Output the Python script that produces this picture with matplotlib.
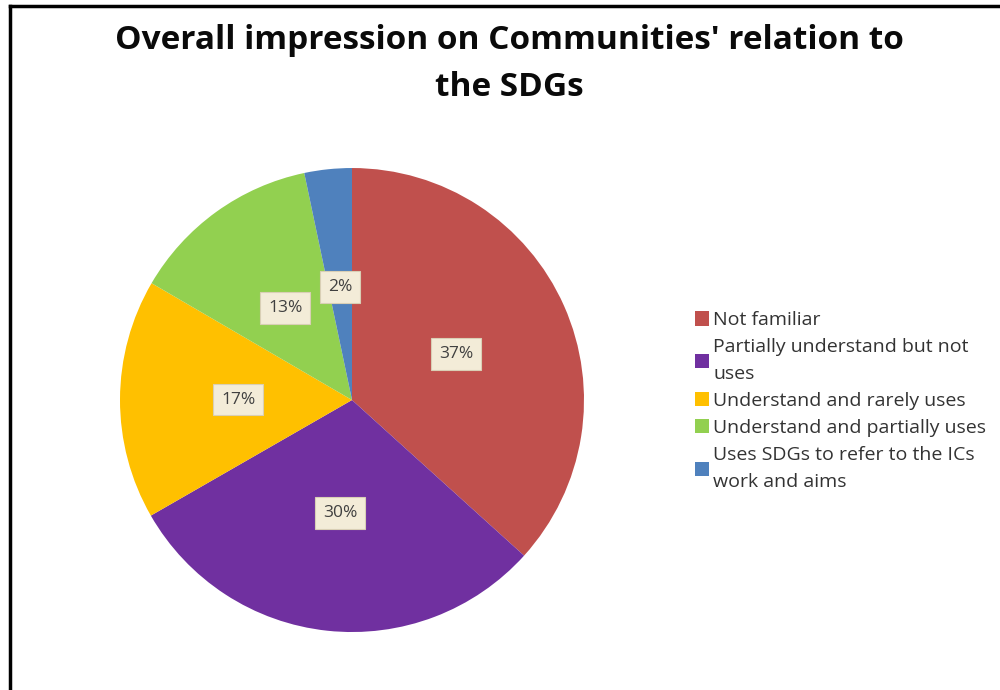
import matplotlib
matplotlib.use("Agg")
import matplotlib.pyplot as plt
import numpy as np

title = "Overall impression on Communities' relation to\nthe SDGs"
categories = ["Not familiar",
              "Partially understand but not\nuses",
              "Understand and rarely uses",
              "Understand and partially uses",
              "Uses SDGs to refer to the ICs\nwork and aims"]
values = [36.7, 30.0, 16.7, 13.3, 3.3]
pct_labels = ["37%", "30%", "17%", "13%", "2%"]
colors = ["#C0504D", "#7030A0", "#FFC000", "#92D050", "#4F81BD"]

plt.rcParams['font.family'] = ['Open Sans', 'DejaVu Sans']

fig = plt.figure(figsize=(10, 6.9), dpi=100)
fig.patch.set_facecolor('white')

# frame lines (left and top)
fig.add_artist(plt.Line2D([0.0095, 0.0095], [0, 0.992], color='black', lw=2.5,
                          transform=fig.transFigure))
fig.add_artist(plt.Line2D([0.0095, 1.0], [0.992, 0.992], color='black', lw=2.5,
                          transform=fig.transFigure))

fig.text(0.509, 0.907, title, ha='center', va='center', fontsize=24,
         fontweight='bold', linespacing=1.55, color='#0a0a0a')

ax = fig.add_axes([0.12, 0.084, 0.464, 0.6725])
wedges, _ = ax.pie(values, colors=colors, startangle=90, counterclock=False,
                   wedgeprops=dict(linewidth=0))
ax.set_xlim(-1, 1)
ax.set_ylim(-1, 1)
ax.set_aspect('equal')

for w, lab in zip(wedges, pct_labels):
    ang = np.deg2rad((w.theta1 + w.theta2) / 2)
    r = 0.49
    ax.text(r * np.cos(ang), r * np.sin(ang), lab, ha='center', va='center',
            fontsize=12.5, color='#404040',
            bbox=dict(boxstyle='square,pad=0.45', facecolor='#F3ECD8',
                      edgecolor='#D9CFB5', linewidth=0.8))

leg = fig.legend(wedges, categories, loc='upper left',
                 bbox_to_anchor=(0.685, 0.563), frameon=False,
                 fontsize=14, handlelength=0.75, handleheight=0.75,
                 handletextpad=0.2, labelspacing=0.47, borderpad=0)
for t in leg.get_texts():
    t.set_color('#333333')
    t.set_linespacing(1.6)

fig.savefig("out.png", dpi=100, facecolor='white')
